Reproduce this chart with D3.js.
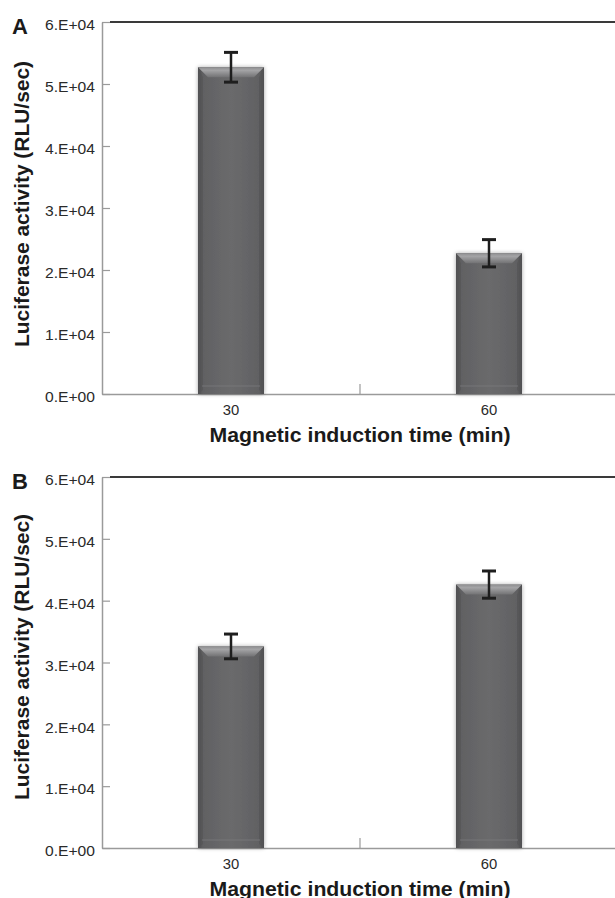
<!DOCTYPE html>
<html>
<head>
<meta charset="utf-8">
<script src="https://cdn.jsdelivr.net/npm/d3@7"></script>
<style>
  html, body { margin: 0; padding: 0; background: #fff; }
  svg { display: block; }
  text { font-family: "Liberation Sans", Arial, sans-serif; }
</style>
</head>
<body>
<svg id="chart" width="615" height="898"></svg>
<script>
// ---- data ----
const categories = ["30", "60"];
const panelLetters = ["A", "B"];
const valuesA = [52700, 22700];
const errorsA = [2400, 2200];
const valuesB = [32600, 42600];
const errorsB = [2000, 2200];
const tickValues = [0, 10000, 20000, 30000, 40000, 50000, 60000];
const tickLabels = ["0.E+00", "1.E+04", "2.E+04", "3.E+04", "4.E+04", "5.E+04", "6.E+04"];
const yLabel = "Luciferase activity (RLU/sec)";
const xLabel = "Magnetic induction time (min)";

const svg = d3.select("#chart");
const defs = svg.append("defs");

// body gradient (horizontal)
const gBody = defs.append("linearGradient").attr("id", "gBody").attr("x1", 0).attr("x2", 1).attr("y1", 0).attr("y2", 0);
[[0, "#4e4e50"], [0.08, "#616163"], [0.5, "#6a6a6c"], [0.92, "#616163"], [1, "#4e4e50"]]
  .forEach(([o, c]) => gBody.append("stop").attr("offset", o).attr("stop-color", c));
// top bevel gradient (vertical)
const gTop = defs.append("linearGradient").attr("id", "gTop").attr("x1", 0).attr("x2", 0).attr("y1", 0).attr("y2", 1);
[[0, "#8e8e90"], [0.3, "#a4a4a6"], [1, "#727274"]]
  .forEach(([o, c]) => gTop.append("stop").attr("offset", o).attr("stop-color", c));
// shadow
const f = defs.append("filter").attr("id", "shadow").attr("x", "-30%").attr("y", "-10%").attr("width", "160%").attr("height", "120%");
f.append("feGaussianBlur").attr("in", "SourceAlpha").attr("stdDeviation", 2).attr("result", "b");
f.append("feOffset").attr("in", "b").attr("dx", 0).attr("dy", 0).attr("result", "o");
f.append("feComponentTransfer").attr("in", "o").attr("result", "s")
  .append("feFuncA").attr("type", "linear").attr("slope", 0.35);
const fm = f.append("feMerge");
fm.append("feMergeNode").attr("in", "s");
fm.append("feMergeNode").attr("in", "SourceGraphic");

const panels = [
  { letter: panelLetters[0], values: valuesA, errors: errorsA, top: 22, bottom: 394, labelCy: 204 },
  { letter: panelLetters[1], values: valuesB, errors: errorsB, top: 477, bottom: 848, labelCy: 657 }
];

const left = 102, right = 618;
const FONT = "'Liberation Sans', Arial, sans-serif";

panels.forEach(p => {
  const g = svg.append("g");
  const y = d3.scaleLinear().domain([0, 60000]).range([p.bottom, p.top]);
  const x = d3.scaleBand().domain(categories).range([left, right]).paddingInner(0.744).paddingOuter(0.372);

  // left axis
  const ya = g.append("g").attr("transform", `translate(${left},0)`)
    .call(d3.axisLeft(y).tickValues(tickValues).tickFormat((d, i) => tickLabels[i])
      .tickSizeInner(-8).tickSizeOuter(0).tickPadding(7));
  ya.select(".domain").attr("stroke", "#9a9a9a").attr("stroke-width", 1.5);
  ya.selectAll(".tick line").attr("stroke", "#9a9a9a").attr("stroke-width", 1.2);
  ya.selectAll(".tick text").attr("font-size", 14).attr("fill", "#2a2a2a").attr("dy", "0.55em")
    .attr("font-family", FONT)
    .attr("textLength", 50).attr("lengthAdjust", "spacingAndGlyphs");

  // top line at max
  g.append("line").attr("x1", left + 8).attr("x2", 615)
    .attr("y1", y(60000)).attr("y2", y(60000))
    .attr("stroke", "#3a3a3a").attr("stroke-width", 2);

  // bottom axis
  const xa = g.append("g").attr("transform", `translate(0,${p.bottom})`)
    .call(d3.axisBottom(x).tickSize(0).tickPadding(11));
  xa.select(".domain").attr("stroke", "#9a9a9a").attr("stroke-width", 1.5);
  xa.selectAll(".tick text").attr("font-size", 14).attr("fill", "#2a2a2a")
    .attr("font-family", FONT)
    .attr("textLength", 16.5).attr("lengthAdjust", "spacingAndGlyphs");
  // category boundary tick
  const mid = (x(categories[0]) + x(categories[1]) + x.bandwidth()) / 2;
  g.append("line").attr("x1", mid).attr("x2", mid).attr("y1", p.bottom).attr("y2", p.bottom - 10)
    .attr("stroke", "#9a9a9a").attr("stroke-width", 1.2);

  // bars
  categories.forEach((c, i) => {
    const x0 = x(c), w = x.bandwidth(), x1 = x0 + w;
    const yt = y(p.values[i]), yb = y(0);
    const bev = 10;
    const bg = g.append("g");
    bg.append("rect").attr("x", x0).attr("y", yt).attr("width", w).attr("height", yb - yt)
      .attr("fill", "url(#gBody)").attr("filter", "url(#shadow)");
    // top bevel
    bg.append("path")
      .attr("d", `M${x0},${yt}L${x1},${yt}L${x1 - bev},${yt + bev}L${x0 + bev},${yt + bev}Z`)
      .attr("fill", "url(#gTop)");
    // side bevels (slightly darker)
    bg.append("path")
      .attr("d", `M${x0},${yt}L${x0 + bev * 0.5},${yt + bev}L${x0 + bev * 0.5},${yb - 4}L${x0},${yb}Z`)
      .attr("fill", "#535355").attr("opacity", 0.6);
    bg.append("path")
      .attr("d", `M${x1},${yt}L${x1 - bev * 0.5},${yt + bev}L${x1 - bev * 0.5},${yb - 4}L${x1},${yb}Z`)
      .attr("fill", "#535355").attr("opacity", 0.6);
    // bottom subtle highlight
    bg.append("rect").attr("x", x0 + 4).attr("y", yb - 9).attr("width", w - 8).attr("height", 2)
      .attr("fill", "#7a7a7c").attr("opacity", 0.4);

    // error bar
    const cx = x0 + w / 2;
    const eTop = y(p.values[i] + p.errors[i]), eBot = y(p.values[i] - p.errors[i]);
    g.append("line").attr("x1", cx).attr("x2", cx).attr("y1", eTop).attr("y2", eBot)
      .attr("stroke", "#1e1e1e").attr("stroke-width", 2.5);
    [eTop, eBot].forEach(ey => {
      g.append("line").attr("x1", cx - 7).attr("x2", cx + 7).attr("y1", ey).attr("y2", ey)
        .attr("stroke", "#1e1e1e").attr("stroke-width", 3);
    });
  });

  // y label
  g.append("text")
    .attr("transform", `translate(28.5,${p.labelCy}) rotate(-90)`)
    .attr("text-anchor", "middle")
    .attr("font-size", 20).attr("font-weight", "bold").attr("fill", "#1a1a1a")
    .attr("textLength", 286).attr("lengthAdjust", "spacingAndGlyphs")
    .text(yLabel);

  // x label
  g.append("text")
    .attr("x", 360).attr("y", p.bottom + 47.5)
    .attr("text-anchor", "middle")
    .attr("font-size", 20).attr("font-weight", "bold").attr("fill", "#1a1a1a")
    .attr("textLength", 301).attr("lengthAdjust", "spacingAndGlyphs")
    .text(xLabel);

  // panel letter
  g.append("text")
    .attr("x", 12).attr("y", p.top + 11.5)
    .attr("font-size", 22).attr("font-weight", "bold").attr("fill", "#1a1a1a")
    .text(p.letter);
});
</script>
</body>
</html>
